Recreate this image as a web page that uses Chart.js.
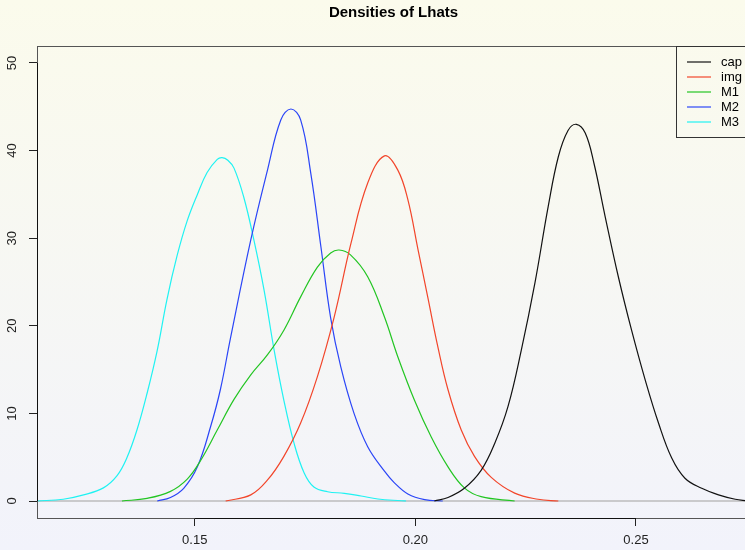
<!DOCTYPE html>
<html>
<head>
<meta charset="utf-8">
<script src="https://cdn.jsdelivr.net/npm/chart.js@4"></script>
<style>
  html, body { margin: 0; padding: 0; overflow: hidden; }
  body { width: 745px; height: 550px; background: linear-gradient(#fbfbec, #f2f3fb); }
  canvas { display: block; }
</style>
</head>
<body>
<canvas id="dens" width="750" height="550"></canvas>
<script>
    // series: x positions (Lhat) and density values
    var capX = [0.2043, 0.2074, 0.2111, 0.2149, 0.2180, 0.2210, 0.2240, 0.2271, 0.2301, 0.2324, 0.2346, 0.2365, 0.2385, 0.2405, 0.2430, 0.2460, 0.2490, 0.2521, 0.2551, 0.2581, 0.2611, 0.2649, 0.2687, 0.2725, 0.2752];
    var capY = [0, 0.4, 1.45, 3.5, 6.6, 10.8, 17.2, 24.9, 33.6, 39.3, 42.3, 43.0, 42.0, 38.5, 32.5, 25.6, 19.5, 13.8, 8.9, 4.9, 2.6, 1.45, 0.7, 0.2, 0.02];

    var imgX = [0.1570, 0.1627, 0.1665, 0.1702, 0.1740, 0.1778, 0.1816, 0.1854, 0.1892, 0.1930, 0.1960, 0.1983, 0.2006, 0.2028, 0.2051, 0.2074, 0.2104, 0.2134, 0.2172, 0.2225, 0.2278, 0.2324];
    var imgY = [0, 0.7, 2.4, 5.1, 8.9, 14.2, 21.0, 29.4, 36.3, 39.4, 37.8, 34.4, 28.7, 23.3, 17.6, 12.7, 8.1, 5.1, 2.7, 0.9, 0.2, 0];

    var m1X = [0.1335, 0.1392, 0.1445, 0.1483, 0.1513, 0.1551, 0.1589, 0.1627, 0.1665, 0.1702, 0.1740, 0.1778, 0.1808, 0.1827, 0.1853, 0.1892, 0.1930, 0.1960, 0.1998, 0.2036, 0.2074, 0.2111, 0.2149, 0.2225];
    var m1Y = [0, 0.3, 1.1, 2.5, 4.6, 8.1, 11.6, 14.4, 16.7, 19.5, 23.3, 26.7, 28.3, 28.65, 28.1, 25.6, 21.0, 16.5, 11.5, 7.3, 3.9, 1.5, 0.5, 0];

    var m2X = [0.1415, 0.1445, 0.1475, 0.1506, 0.1536, 0.1558, 0.1581, 0.1627, 0.1665, 0.1695, 0.1718, 0.1740, 0.1763, 0.1786, 0.1808, 0.1831, 0.1861, 0.1892, 0.1930, 0.1952, 0.1983, 0.2021, 0.2062];
    var m2Y = [0, 0.4, 1.45, 3.9, 8.5, 12.7, 18.6, 29.8, 37.8, 43.5, 44.75, 43.5, 37.4, 29.0, 20.9, 15.3, 10.0, 6.2, 3.4, 2.1, 0.8, 0.15, 0];

    var m3X = [0.1142, 0.1202, 0.1248, 0.1293, 0.1324, 0.1346, 0.1369, 0.1392, 0.1415, 0.1437, 0.1460, 0.1483, 0.1506, 0.1528, 0.1551, 0.1562, 0.1575, 0.1589, 0.1611, 0.1634, 0.1657, 0.1680, 0.1702, 0.1725, 0.1748, 0.1770, 0.1801, 0.1839, 0.1877, 0.1915, 0.1968, 0.1979];
    var m3Y = [0, 0.2, 0.7, 1.5, 2.9, 4.9, 8.1, 12.3, 17.2, 23.0, 28.0, 32.0, 35.0, 37.5, 39.0, 39.2, 38.9, 38.0, 34.7, 29.8, 24.1, 17.2, 11.5, 6.6, 3.2, 1.6, 1.06, 0.88, 0.57, 0.23, 0.03, 0];

    var seriesNames = ['cap', 'img', 'M1', 'M2', 'M3'];
    var seriesColors = ['#111111', '#f2452a', '#22c522', '#2a45f7', '#1ff2f2'];
    var xTicks = [0.15, 0.20, 0.25];
    var yTicks = [0, 10, 20, 30, 40, 50];

    function pts(xs, ys) {
        return xs.map(function (x, i) { return { x: x, y: ys[i] }; });
    }

    var allX = [capX, imgX, m1X, m2X, m3X];
    var allY = [capY, imgY, m1Y, m2Y, m3Y];

    var datasets = seriesNames.map(function (name, i) {
        return {
            label: name,
            data: pts(allX[i], allY[i]),
            borderColor: seriesColors[i],
            borderWidth: 1.2,
            pointRadius: 0,
            fill: false,
            tension: 0.4
        };
    });

    var tickFont = { family: '"Liberation Sans", Arial, Helvetica, sans-serif', size: 13 };

    // gray zero line, like R's density plot
    var zeroLine = {
        id: 'zeroLine',
        beforeDatasetsDraw: function (chart) {
            var c = chart.ctx, a = chart.chartArea;
            var y = chart.scales.y.getPixelForValue(0);
            c.save();
            c.strokeStyle = '#bdbdbd';
            c.lineWidth = 1.5;
            c.beginPath();
            c.moveTo(a.left, y);
            c.lineTo(a.right, y);
            c.stroke();
            c.restore();
        }
    };

    // plot box + axis lines between first and last tick + legend box
    var frame = {
        id: 'frame',
        afterDraw: function (chart) {
            var c = chart.ctx, a = chart.chartArea;
            var xs = chart.scales.x, ys = chart.scales.y;
            c.save();
            c.strokeStyle = '#555';
            c.lineWidth = 1;
            c.strokeRect(Math.round(a.left) + 0.5, Math.round(a.top) + 0.5, a.right - a.left, a.bottom - a.top);

            c.strokeStyle = '#111';
            c.beginPath();
            c.moveTo(xs.getPixelForValue(xTicks[0]), Math.round(a.bottom) + 0.5);
            c.lineTo(xs.getPixelForValue(xTicks[xTicks.length - 1]), Math.round(a.bottom) + 0.5);
            c.moveTo(Math.round(a.left) + 0.5, ys.getPixelForValue(yTicks[0]));
            c.lineTo(Math.round(a.left) + 0.5, ys.getPixelForValue(yTicks[yTicks.length - 1]));
            c.stroke();

            // legend
            var lx = 676, ly = Math.round(a.top);
            c.strokeStyle = '#333';
            c.strokeRect(lx + 0.5, ly + 0.5, a.right - lx, 91);
            c.font = '13px "Liberation Sans", Arial, Helvetica, sans-serif';
            c.textBaseline = 'middle';
            c.fillStyle = '#000';
            chart.data.datasets.forEach(function (ds, i) {
                var ry = ly + 16 + i * 15;
                c.strokeStyle = ds.borderColor;
                c.lineWidth = 1.2;
                c.beginPath();
                c.moveTo(687, ry);
                c.lineTo(711, ry);
                c.stroke();
                c.fillText(ds.label, 721, ry);
            });
            c.restore();
        }
    };

    var dens = new Chart(document.getElementById('dens').getContext('2d'), {
        type: 'line',
        data: { datasets: datasets },
        options: {
            responsive: false,
            animation: false,
            devicePixelRatio: 1,
            layout: { padding: 0 },
            plugins: {
                legend: { display: false },
                tooltip: { enabled: false },
                title: {
                    display: true,
                    text: 'Densities of Lhats',
                    fullSize: false,
                    color: '#000',
                    font: { family: '"Liberation Sans", Arial, Helvetica, sans-serif', size: 15, weight: 'bold' },
                    padding: { top: 4, bottom: 24 }
                }
            },
            scales: {
                x: {
                    type: 'linear',
                    min: 0.11425,
                    max: 0.27584,
                    border: { display: false },
                    grid: { drawOnChartArea: false, drawTicks: true, tickLength: 8, tickColor: '#222', color: '#222' },
                    ticks: {
                        font: tickFont, color: '#222', padding: 7,
                        callback: function (v) { return v.toFixed(2); }
                    },
                    afterBuildTicks: function (s) { s.ticks = xTicks.map(function (v) { return { value: v }; }); },
                    afterFit: function (s) { s.height = 32; }
                },
                y: {
                    min: -1.94,
                    max: 51.94,
                    border: { display: false },
                    grid: { drawOnChartArea: false, drawTicks: true, tickLength: 8, tickColor: '#222', color: '#222' },
                    ticks: { font: tickFont, color: '#222', padding: 9, minRotation: 90, maxRotation: 90, crossAlign: 'center' },
                    afterBuildTicks: function (s) { s.ticks = yTicks.map(function (v) { return { value: v }; }); },
                    afterFit: function (s) { s.width = 37; }
                }
            }
        },
        plugins: [zeroLine, frame]
    });
</script>
</body>
</html>
